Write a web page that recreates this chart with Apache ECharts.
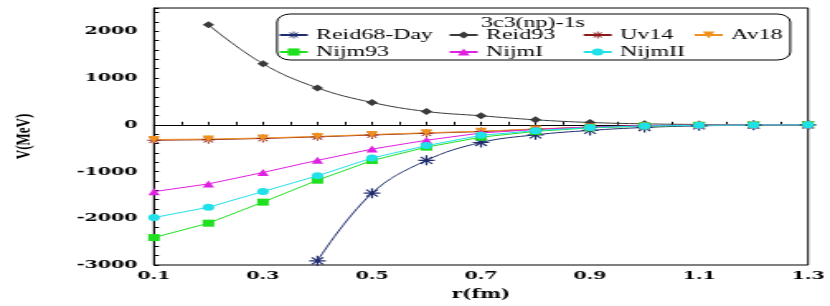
<!DOCTYPE html>
<html>
<head>
<meta charset="utf-8">
<script src="https://cdn.jsdelivr.net/npm/echarts@6/dist/echarts.min.js"></script>
<style>
html,body{margin:0;padding:0;background:#fff;overflow:hidden;}
#wrap{width:830px;height:306px;overflow:hidden;}
#chart{width:503px;height:306px;transform:scaleX(1.6501);transform-origin:0 0;}
</style>
</head>
<body>
<div id="wrap"><div id="chart"></div></div>
<script>
// ---- data ----
const rValues = [0.1,0.2,0.3,0.4,0.5,0.6,0.7,0.8,0.9,1.0,1.1,1.2,1.3];
const reid68Day = [null,null,null,-2910,-1463,-760,-378,-214,-120,-57,-22,-8,-3];
const reid93 = [null,2140,1306,790,478,285,193,107,50,21,8,3,1];
const uv14 = [-330,-318,-292,-258,-218,-180,-145,-94,-52,-25,-10,-4,-1];
const av18 = [-315,-305,-282,-248,-208,-170,-138,-88,-48,-22,-9,-3,-1];
const nijm93 = [-2413,-2105,-1655,-1185,-765,-478,-264,-140,-65,-28,-12,-5,-2];
const nijmI = [-1430,-1264,-1020,-760,-520,-330,-175,-100,-45,-18,-7,-3,-1];
const nijmII = [-1985,-1763,-1427,-1092,-710,-445,-225,-125,-58,-24,-10,-4,-1];
const seriesNames = ['Reid68-Day','Reid93','Uv14','Av18','Nijm93','NijmI','NijmII'];
const legendTitle = '3c3(np)-1s';
const xName = 'r(fm)';
const yName = 'V(MeV)';

const asterisk = 'path://M-0.6,-5 L0.6,-5 L0.6,5 L-0.6,5 Z M-5,-0.6 L5,-0.6 L5,0.6 L-5,0.6 Z M-3.9,-3.1 L-3.1,-3.9 L3.9,3.1 L3.1,3.9 Z M3.1,-3.9 L3.9,-3.1 L-3.1,3.9 L-3.9,3.1 Z';

const colors = {
  'Reid68-Day':'#1f2d6e','Reid93':'#3a3a3a','Uv14':'#8b1c1c','Av18':'#f0901e',
  'Nijm93':'#1ee01e','NijmI':'#e020e0','NijmII':'#20e0e8'
};
const symbols = {
  'Reid68-Day':asterisk,'Reid93':'diamond','Uv14':asterisk,'Av18':'path://M-5,-4 L5,-4 L0,4 Z',
  'Nijm93':'rect','NijmI':'triangle','NijmII':'circle'
};
const smoothOn = {'Reid68-Day':true,'Reid93':true};
const valuesByName = {
  'Reid68-Day':reid68Day,'Reid93':reid93,'Uv14':uv14,'Av18':av18,
  'Nijm93':nijm93,'NijmI':nijmI,'NijmII':nijmII
};

const series = seriesNames.map(function(name){
  return {
    name: name, type:'line', smooth: smoothOn[name] ? 0.4 : false,
    symbol: symbols[name], symbolSize: name==='Reid68-Day' ? 10 : (name==='Uv14' ? 8 : 7),
    data: rValues.map(function(x,i){ return [x, valuesByName[name][i]]; }),
    lineStyle:{color:colors[name], width:1},
    itemStyle:{color:colors[name]},
    connectNulls:false, clip:true, z:2
  };
});
series[1].markLine = {
  silent:true, symbol:['none','none'], label:{show:false},
  lineStyle:{color:'#000', width:1, type:'solid'},
  data:[{yAxis:0}], z:1
};

const serif = 'Liberation Serif';
const cols = [[168.5,['Reid68-Day','Nijm93']],[271.5,['Reid93','NijmI']],[352.7,['Uv14','NijmII']],[420,['Av18']]];
const legends = cols.map(function(c){
  return {
    orient:'vertical', left:c[0], top:27, padding:0, itemGap:1, itemWidth:17, itemHeight:9,
    selectedMode:false, z:6, data:c[1],
    textStyle:{fontFamily:serif, fontSize:14.5, fontWeight:'normal', color:'#000', lineHeight:16}
  };
});

const chart = echarts.init(document.getElementById('chart'));
chart.setOption({
  animation:false,
  backgroundColor:'#fff',
  textStyle:{fontFamily:serif},
  grid:{left:93.3, right:13.3, top:8, bottom:41, show:true, borderColor:'#000', borderWidth:1, containLabel:false, outerBoundsMode:'none'},
  legend: legends,
  graphic:[
    {type:'rect', shape:{x:167.9, y:14, width:311, height:46, r:8}, style:{fill:'#fff', stroke:'#000', lineWidth:1}, z:3},
    {type:'text', x:323, y:23, style:{text:legendTitle, fontFamily:serif, fontSize:14.5, fill:'#000', align:'center', verticalAlign:'middle'}, z:6}
  ],
  xAxis:{
    type:'value', min:0.1, max:1.3, interval:0.1,
    name:xName, nameLocation:'middle', nameGap:24,
    nameTextStyle:{fontFamily:'DejaVu Serif', fontWeight:'bold', fontSize:12, color:'#000'},
    axisLine:{show:true, lineStyle:{color:'#000', width:1}},
    axisTick:{show:true, inside:true, length:3, lineStyle:{color:'#000'}},
    minorTick:{show:true, splitNumber:2, length:3, lineStyle:{color:'#000'}},
    splitLine:{show:false},
    axisLabel:{margin:5, fontFamily:'DejaVu Serif', fontWeight:'bold', fontSize:11.5, color:'#000',
      formatter:function(v){ return Math.round(v*10)%2===1 ? v.toFixed(1) : ''; }}
  },
  yAxis:{
    type:'value', min:-3000, max:2500, interval:1000,
    name:yName, nameLocation:'middle', nameGap:72, nameRotate:90,
    nameTextStyle:{fontFamily:serif, fontWeight:'bold', fontSize:13, color:'#000'},
    axisLine:{show:true, lineStyle:{color:'#000', width:1}},
    axisTick:{show:true, inside:true, length:3, lineStyle:{color:'#000'}},
    minorTick:{show:true, splitNumber:5, length:3, lineStyle:{color:'#000'}},
    splitLine:{show:false},
    axisLabel:{margin:10, fontFamily:'DejaVu Serif', fontWeight:'bold', fontSize:11.5, color:'#000',
      formatter:function(v){ return v > 2000 ? '' : String(v); }}
  },
  series: series
});
</script>
</body>
</html>
